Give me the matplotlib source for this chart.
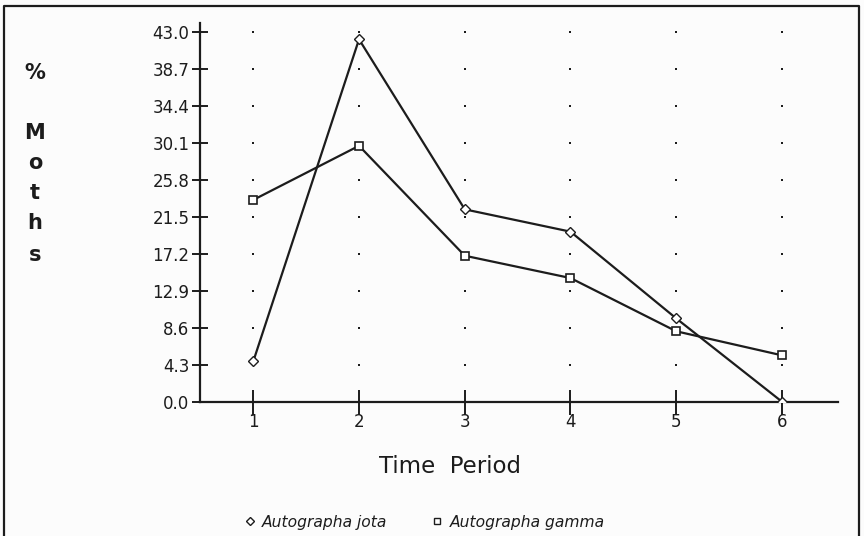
import numpy as np
import matplotlib
matplotlib.use("Agg")
import matplotlib.pyplot as plt
from matplotlib.lines import Line2D

# data
periods = [1, 2, 3, 4, 5, 6]
jota = [4.7, 42.2, 22.4, 19.8, 9.7, 0.0]
gamma = [23.5, 29.8, 17.0, 14.4, 8.2, 5.4]
yticks = [0.0, 4.3, 8.6, 12.9, 17.2, 21.5, 25.8, 30.1, 34.4, 38.7, 43.0]
side_label = ["%", "", "M", "o", "t", "h", "s"]

INK = "#1c1c1c"
plt.rcParams['font.family'] = ['DejaVu Sans']

fig = plt.figure(figsize=(8.64, 5.36), dpi=100)
fig.patch.set_facecolor("#fcfcfc")
ax = fig.add_axes([200 / 864, 134.3 / 536, 638 / 864, 378.7 / 536])
ax.set_facecolor("none")

# dotted grid at tick crossings
gx, gy = np.meshgrid(periods, yticks[1:])
ax.scatter(gx.ravel(), gy.ravel(), s=3, marker="s", color=INK, lw=0, zorder=1)

ax.plot(periods, jota, color=INK, lw=1.6, marker="D", ms=5,
        mfc="white", mec=INK, mew=1.0, zorder=3)
ax.plot(periods, gamma, color=INK, lw=1.6, marker="s", ms=6,
        mfc="white", mec=INK, mew=1.2, zorder=3)

ax.set_xlim(0.496, 6.53)
ax.set_ylim(0, 44.1)
ax.set_xticks(periods)
ax.set_xticklabels([str(p) for p in periods])
ax.set_yticks(yticks)
ax.set_yticklabels(["%.1f" % v for v in yticks])

for s in ["top", "right"]:
    ax.spines[s].set_visible(False)
for s in ["left", "bottom"]:
    ax.spines[s].set_linewidth(1.6)
    ax.spines[s].set_color(INK)

ax.tick_params(axis="y", direction="inout", length=12, width=1.4,
               color=INK, pad=1.5, labelsize=12, labelcolor=INK)
ax.tick_params(axis="x", direction="inout", length=18, width=1.4,
               color=INK, pad=-1, labelsize=12, labelcolor=INK)

# vertical side label
ys = [73, 103, 133, 163, 193, 223, 255]
for ch, y in zip(side_label, ys):
    if ch:
        fig.text(35 / 864, 1 - y / 536, ch, ha="center", va="center",
                 fontsize=15, fontweight="bold", color=INK)

fig.text(450 / 864, 1 - 466.5 / 536, "Time  Period", ha="center",
         va="center", fontsize=16.5, color=INK)

# legend
fig.lines.append(Line2D([250 / 864], [1 - 520.7 / 536], marker="D", ms=4,
                        mfc="white", mec=INK, mew=1.0, ls="none",
                        transform=fig.transFigure))
fig.text(262 / 864, 1 - 527 / 536, "Autographa jota", ha="left",
         va="baseline", fontsize=11.2, style="italic", color=INK)
fig.lines.append(Line2D([437 / 864], [1 - 520.7 / 536], marker="s", ms=4.5,
                        mfc="white", mec=INK, mew=1.0, ls="none",
                        transform=fig.transFigure))
fig.text(450 / 864, 1 - 527 / 536, "Autographa gamma", ha="left",
         va="baseline", fontsize=11.2, style="italic", color=INK)

# frame round the picture (no bottom edge)
fx0, fx1, fy1 = 3.5 / 864, 859 / 864, 1 - 6 / 536
fig.lines.append(Line2D([fx0, fx0, fx1, fx1], [0, fy1, fy1, 0],
                        color=INK, lw=1.6, transform=fig.transFigure))

fig.savefig("out.png", dpi=100, facecolor=fig.get_facecolor())
